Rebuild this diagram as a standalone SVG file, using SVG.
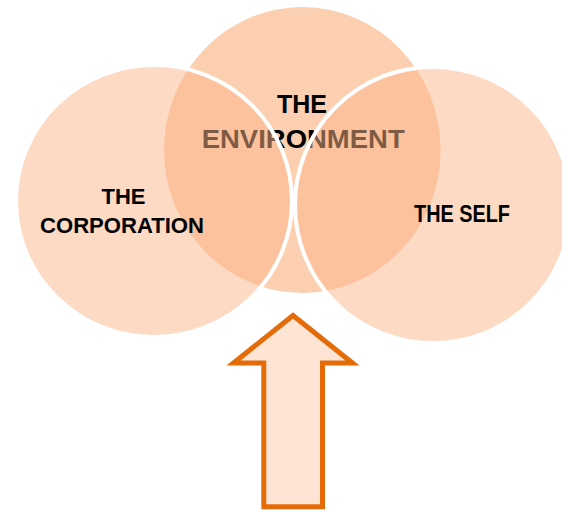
<svg xmlns="http://www.w3.org/2000/svg" width="562" height="510" viewBox="0 0 562 510">
  <style>
    .label { font-family: "Liberation Sans", Arial, sans-serif; font-weight: bold; fill: #000000; }
    .ring { stroke: #FFFFFF; stroke-width: 4; }
    .overlay { fill: #FBB589; fill-opacity: 0.5; }
    .base { fill: #FCCFB0; }
    .arrow { fill: #FDE4D4; stroke: #E36C09; stroke-width: 5; stroke-linejoin: miter; }
  </style>

  <!-- top set, drawn first so the side sets tint over it -->
  <g id="node-environment">
    <ellipse class="base" cx="302.3" cy="150" rx="138.3" ry="143"/>
    <text class="label" x="302" y="113" font-size="25" text-anchor="middle">THE</text>
    <text class="label" x="201.7" y="148" font-size="25" textLength="203" lengthAdjust="spacingAndGlyphs">ENVIRONMENT</text>
  </g>

  <!-- left set -->
  <g id="node-corporation">
    <ellipse class="overlay ring" cx="154" cy="201" rx="138" ry="136"/>
    <text class="label" x="123.5" y="204" font-size="22" text-anchor="middle">THE</text>
    <text class="label" x="40" y="233" font-size="22" textLength="164" lengthAdjust="spacingAndGlyphs">CORPORATION</text>
  </g>

  <!-- right set -->
  <g id="node-self">
    <ellipse class="overlay ring" cx="433" cy="205" rx="138" ry="138"/>
    <text class="label" x="414" y="222" font-size="23" textLength="96" lengthAdjust="spacingAndGlyphs">THE SELF</text>
  </g>

  <!-- upward block arrow under the sets -->
  <g id="connectors">
    <path class="arrow" d="M293,315.5 L352.5,363 L322.5,363 L322.5,506.8 L263.8,506.8 L263.8,363 L233.5,363 Z"/>
  </g>
</svg>
